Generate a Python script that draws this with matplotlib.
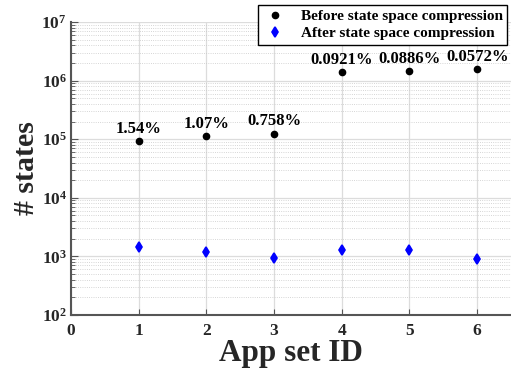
import math
import matplotlib
matplotlib.use("Agg")
import matplotlib.pyplot as plt
from matplotlib.ticker import LogLocator, FixedLocator, FuncFormatter, NullFormatter

plt.rcParams['font.family'] = ['Liberation Serif', 'DejaVu Serif']
plt.rcParams['font.weight'] = 'bold'
plt.rcParams['mathtext.fontset'] = 'custom'
plt.rcParams['mathtext.rm'] = 'Liberation Serif:bold'
plt.rcParams['mathtext.bf'] = 'Liberation Serif:bold'
plt.rcParams['mathtext.it'] = 'Liberation Serif:bold:italic'

app_ids = [1, 2, 3, 4, 5, 6]
before = [92500, 112000, 125000, 1380000, 1460000, 1580000]
after = [1420, 1200, 950, 1270, 1295, 905]
ratios = ["1.54%", "1.07%", "0.758%", "0.0921%", "0.0886%", "0.0572%"]
x_ticks = [0, 1, 2, 3, 4, 5, 6]

fig = plt.figure(figsize=(5.11, 3.71), dpi=100)
ax = fig.add_axes([71/511, 1-315/371, 1.0-71/511, (315-22)/371])

ax.set_yscale('log')
ax.set_ylim(1e2, 1e7)
ax.set_xlim(0, 6.5)

ax.plot(app_ids, before, linestyle='none', marker='o', color='black',
        markersize=4.5, label='Before state space compression', zorder=3)
ax.plot(app_ids, after, linestyle='none', marker='d', color='blue',
        markeredgewidth=1.2, markersize=4.8, label='After state space compression', zorder=3)

for xi, yi, t in zip(app_ids, before, ratios):
    ax.annotate(t, (xi, yi), xytext=(0, 3), textcoords='offset points',
                ha='center', va='bottom', fontsize=12, fontweight='bold')

ax.xaxis.set_major_locator(FixedLocator(x_ticks))
ax.set_xticklabels([str(v) for v in x_ticks])
ax.yaxis.set_major_locator(LogLocator(base=10, numticks=10))
ax.yaxis.set_minor_locator(LogLocator(base=10, subs=range(2, 10), numticks=20))
ax.yaxis.set_minor_formatter(NullFormatter())
ax.yaxis.set_major_formatter(FuncFormatter(
    lambda v, p: r'$\mathbf{10}^{\mathbf{%d}}$' % round(math.log10(v))))

ax.grid(True, which='major', color='#dcdcdc', linewidth=0.9, linestyle='-')
ax.grid(True, which='minor', axis='y', color='#c8c8c8', linewidth=0.6, linestyle=':')
ax.set_axisbelow(True)

for s in ['top', 'right']:
    ax.spines[s].set_visible(False)
for s in ['left', 'bottom']:
    ax.spines[s].set_color('#555555')
    ax.spines[s].set_linewidth(1.5)

ax.tick_params(axis='both', which='both', direction='in', colors='#555555',
               labelcolor='#262626', labelsize=12.5)
ax.tick_params(axis='y', which='major', length=5, pad=3)
ax.tick_params(axis='y', which='minor', length=3)
ax.tick_params(axis='x', which='major', length=4, pad=6)
for lbl in ax.get_xticklabels():
    lbl.set_fontweight('bold')

ax.set_xlabel('App set ID', fontsize=22.5, fontweight='bold', color='#262626', labelpad=0)
ax.set_ylabel('# states', fontsize=21.5, fontweight='bold', color='#262626', labelpad=1)

leg = fig.legend(loc='upper right', bbox_to_anchor=(0.999, 0.995),
                 frameon=True, fancybox=False, edgecolor='black', framealpha=1,
                 borderpad=0.3, handletextpad=0.9, labelspacing=0.2, handlelength=1.6,
                 borderaxespad=0.2,
                 prop={'weight': 'bold', 'size': 11})
leg.get_frame().set_linewidth(1.0)

fig.savefig('out.png', dpi=100)
